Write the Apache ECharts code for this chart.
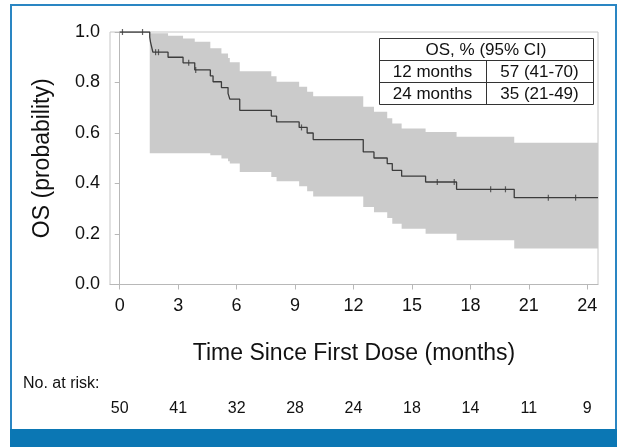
<!DOCTYPE html>
<html><head><meta charset="utf-8">
<script src="https://cdn.jsdelivr.net/npm/echarts@6/dist/echarts.min.js"></script>
<style>html,body{margin:0;padding:0;background:#fff}#c{width:618px;height:447px}</style>
</head><body><div id="c"></div>
<script>
// Kaplan-Meier estimate (months, probability)
const kmTimes = [0, 1.54, 1.58, 1.64, 1.70, 2.48, 3.25, 3.85, 4.65, 4.79, 5.22, 5.56, 5.65, 6.16, 7.78, 8.05, 9.21, 9.62, 9.93, 12.5, 13.05, 13.73, 13.99, 14.47, 15.70, 17.29, 20.25, 24.55];
const kmSurv  = [1.0, 0.98, 0.96, 0.94, 0.92, 0.90, 0.878, 0.85, 0.826, 0.803, 0.78, 0.757, 0.734, 0.69, 0.667, 0.644, 0.622, 0.60, 0.574, 0.525, 0.501, 0.479, 0.452, 0.429, 0.406, 0.377, 0.344, 0.344];
// 95% confidence band
const ciTimes = [1.54, 2.48, 3.25, 3.85, 4.65, 4.79, 5.22, 5.56, 5.65, 6.16, 7.78, 8.05, 9.21, 9.62, 9.93, 12.5, 13.05, 13.73, 13.99, 14.47, 15.70, 17.29, 20.25, 24.55];
const ciUpper = [0.995, 0.985, 0.974, 0.961, 0.936, 0.936, 0.915, 0.897, 0.880, 0.845, 0.825, 0.803, 0.783, 0.763, 0.746, 0.704, 0.684, 0.658, 0.638, 0.618, 0.604, 0.585, 0.561, 0.561];
const ciLower = [0.52, 0.52, 0.52, 0.52, 0.512, 0.512, 0.499, 0.488, 0.479, 0.446, 0.426, 0.409, 0.389, 0.369, 0.349, 0.307, 0.286, 0.263, 0.241, 0.221, 0.201, 0.175, 0.143, 0.143];
// censored observations
const censorTimes = [0.14, 1.17, 1.84, 1.99, 3.54, 3.90, 9.33, 16.30, 17.17, 19.04, 19.80, 22.0, 23.4];
const censorSurv  = [1.0, 1.0, 0.92, 0.92, 0.878, 0.85, 0.622, 0.406, 0.406, 0.377, 0.377, 0.344, 0.344];
// axes / risk table
const xTicks = [0, 3, 6, 9, 12, 15, 18, 21, 24];
const atRisk = [50, 41, 32, 28, 24, 18, 14, 11, 9];
const xTitle = 'Time Since First Dose (months)';
const yTitle = 'OS (probability)';
const riskTitle = 'No. at risk:';
const tableHeader = 'OS, % (95% CI)';
const tableRows = [['12 months', '57 (41-70)'], ['24 months', '35 (21-49)']];

const chart = echarts.init(document.getElementById('c'), null, {renderer: 'canvas'});
const FONT = '"Liberation Sans", Arial, sans-serif';
const AX = '#b8b8b8';

// table graphic elements
const tX = 379, tY = 38, tW = 214, rowH = 22, colX = 486;
const tbl = [];
tbl.push({type: 'rect', shape: {x: tX + 0.5, y: tY + 0.5, width: tW, height: rowH * 3}, style: {fill: '#fff', stroke: '#333', lineWidth: 1}, z: 20});
tbl.push({type: 'line', shape: {x1: tX, y1: tY + rowH + 0.5, x2: tX + tW, y2: tY + rowH + 0.5}, style: {stroke: '#333', lineWidth: 1}, z: 21});
tbl.push({type: 'line', shape: {x1: tX, y1: tY + rowH * 2 + 0.5, x2: tX + tW, y2: tY + rowH * 2 + 0.5}, style: {stroke: '#333', lineWidth: 1}, z: 21});
tbl.push({type: 'line', shape: {x1: colX + 0.5, y1: tY + rowH, x2: colX + 0.5, y2: tY + rowH * 3}, style: {stroke: '#333', lineWidth: 1}, z: 21});
tbl.push({type: 'text', x: tX + tW / 2, y: tY + rowH / 2 + 1, style: {text: tableHeader, font: '17px ' + FONT, fill: '#111', align: 'center', verticalAlign: 'middle'}, z: 22});
tableRows.forEach((r, i) => {
  const cy = tY + rowH * (i + 1) + rowH / 2 + 1;
  tbl.push({type: 'text', x: (tX + colX) / 2, y: cy, style: {text: r[0], font: '17px ' + FONT, fill: '#111', align: 'center', verticalAlign: 'middle'}, z: 22});
  tbl.push({type: 'text', x: (colX + tX + tW) / 2, y: cy, style: {text: r[1], font: '17px ' + FONT, fill: '#111', align: 'center', verticalAlign: 'middle'}, z: 22});
});

function renderBand(params, api) {
  const up = [], lo = [];
  for (let i = 0; i < ciTimes.length; i++) {
    const t0 = ciTimes[i];
    const t1 = i + 1 < ciTimes.length ? ciTimes[i + 1] : ciTimes[i];
    up.push(api.coord([t0, ciUpper[i]]), api.coord([t1, ciUpper[i]]));
    lo.push(api.coord([t0, ciLower[i]]), api.coord([t1, ciLower[i]]));
  }
  const pts = up.concat(lo.reverse());
  return {type: 'polygon', shape: {points: pts}, style: {fill: '#cbcbcb', stroke: null}, silent: true};
}

const option = {
  backgroundColor: '#fff',
  animation: false,
  grid: {left: 110, right: 20, top: 32, height: 252.5, show: true, borderColor: '#c6c6c6', borderWidth: 1, backgroundColor: 'transparent'},
  xAxis: [{
    type: 'value', min: -0.5, max: 24.55,
    axisLine: {show: true, onZero: false, lineStyle: {color: AX, width: 1}},
    axisTick: {show: true, customValues: xTicks, length: 5, lineStyle: {color: AX}},
    axisLabel: {customValues: xTicks, color: '#111', fontSize: 18, fontFamily: FONT, margin: 13},
    splitLine: {show: false},
    name: xTitle, nameLocation: 'middle', nameGap: 58,
    nameTextStyle: {fontSize: 23, color: '#111', fontFamily: FONT}
  }, {
    type: 'value', min: -0.5, max: 24.55, position: 'bottom', offset: 108,
    axisLine: {show: false}, axisTick: {show: false}, splitLine: {show: false},
    axisLabel: {customValues: xTicks, color: '#111', fontSize: 16, fontFamily: FONT, margin: 8,
      formatter: v => String(atRisk[xTicks.indexOf(Math.round(v))])}
  }],
  yAxis: {
    type: 'value', min: 0, max: 1, interval: 0.2,
    axisLine: {show: true, lineStyle: {color: AX, width: 1}},
    axisTick: {show: true, length: 5, lineStyle: {color: AX}},
    axisLabel: {color: '#111', fontSize: 18, fontFamily: FONT, margin: 10, formatter: v => v.toFixed(1)},
    splitLine: {show: false},
    name: yTitle, nameLocation: 'middle', nameGap: 56, nameRotate: 90,
    nameTextStyle: {fontSize: 23, color: '#111', fontFamily: FONT}
  },
  series: [{
    type: 'custom', renderItem: renderBand, data: [[ciTimes[0], ciLower[0]]],
    silent: true, z: 1, clip: true
  }, {
    type: 'line', step: 'end', symbol: 'none', silent: true,
    data: kmTimes.map((t, i) => [t, kmSurv[i]]),
    lineStyle: {color: '#3c3c3c', width: 1.3}, z: 3
  }, {
    type: 'scatter', symbol: 'rect', symbolSize: [1.2, 6], silent: true,
    data: censorTimes.map((t, i) => [t, censorSurv[i]]),
    itemStyle: {color: '#3c3c3c'}, z: 4
  }],
  graphic: [
    {type: 'rect', shape: {x: 11, y: 5, width: 605, height: 440}, style: {fill: 'none', stroke: '#2a86c3', lineWidth: 2}, z: 10},
    {type: 'rect', shape: {x: 10, y: 429, width: 607, height: 18}, style: {fill: '#0b77b4'}, z: 11},
    {type: 'text', x: 23, y: 384, style: {text: riskTitle, font: '16px ' + FONT, fill: '#111', align: 'left', verticalAlign: 'middle'}, z: 10}
  ].concat(tbl)
};
chart.setOption(option);
</script>
</body></html>
